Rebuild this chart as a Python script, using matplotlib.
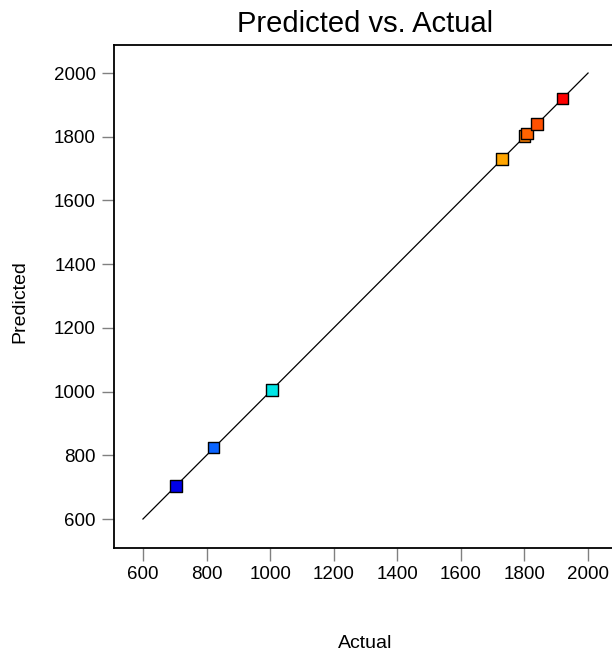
import numpy as np
import matplotlib.pyplot as plt

plt.rcParams['font.family'] = ['Liberation Sans', 'DejaVu Sans']

# ----------------------------

actual = [703, 822, 1005, 1730, 1800, 1808, 1840, 1920]
predicted = [703, 825, 1005, 1730, 1803, 1810, 1840, 1920]
colors = ['#0000e8', '#0a64ff', '#00e6e6', '#ffa500',
          '#f07800', '#ff6400', '#ff5000', '#ff0000']

ticks = [600, 800, 1000, 1200, 1400, 1600, 1800, 2000]
lims = (509, 2088)
diag = [600, 2000]

# ----------------------------

fig = plt.figure(figsize=(6.12, 6.53), dpi=100)
ax = fig.add_axes([0.1863, 0.1608, 0.8203, 0.7703])

ax.plot(diag, diag, color='black', lw=0.9, zorder=2)
ax.scatter(actual, predicted, marker='s', s=70, c=colors,
           edgecolors='black', linewidths=1.0, zorder=3)

ax.set_xlim(lims)
ax.set_ylim(lims)
ax.set_xticks(ticks)
ax.set_yticks(ticks)
ax.tick_params(direction='out', length=9, width=1, color='#808080',
               labelsize=13.5, pad=4)

for s in ax.spines.values():
    s.set_linewidth(1.3)

ax.set_title('Predicted vs. Actual', fontsize=21, pad=9)
ax.set_xlabel('Actual', fontsize=14, va='center')
ax.set_ylabel('Predicted', fontsize=14, va='center')
ax.xaxis.set_label_coords(0.5, -0.189)
ax.yaxis.set_label_coords(-0.187, 0.49)

fig.savefig('out.png', dpi=100)
